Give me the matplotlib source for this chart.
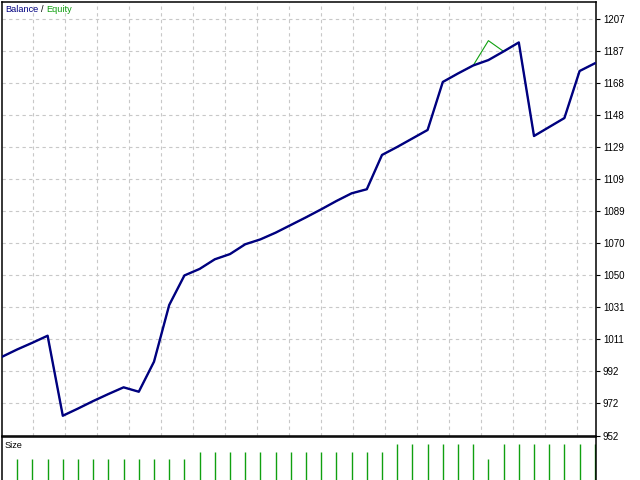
import numpy as np
import matplotlib
matplotlib.use("Agg")
import matplotlib.pyplot as plt

# ---- data ----
trade_index = list(range(40))
balance = [1001.0, 1005.5, 1009.6, 1013.9, 964.9, 969.3, 973.9, 978.2, 982.3, 979.6,
           998.0, 1032.7, 1050.8, 1054.8, 1060.7, 1063.9, 1069.9, 1072.9, 1077.0, 1081.7,
           1086.4, 1091.3, 1096.4, 1101.1, 1103.6, 1124.6, 1129.5, 1134.7, 1139.9, 1169.3,
           1174.5, 1179.4, 1182.7, 1188.0, 1193.5, 1136.2, 1141.7, 1147.2, 1176.0, 1180.7]
equity = list(balance)
equity[32] = 1194.6
size_index = list(range(1, 40))
sizes = [3]*12 + [4]*13 + [5]*6 + [3] + [5]*7
ytick_values = [952.8 + 19.615 * k for k in range(14)]
ytick_labels = ["952", "972", "992", "1011", "1031", "1050", "1070", "1089",
                "1109", "1129", "1148", "1168", "1187", "1207"]

FONT = "Liberation Sans"
FS = 7.0
FS_T = 6.6
W, H = 640, 480
fig = plt.figure(figsize=(6.4, 4.8), dpi=100)

# main axes: pixel box x 2..596, y 2..435.5
ax = fig.add_axes([2 / W, (H - 435.5) / H, 594 / W, 433.5 / H])
ax.set_xlim(0, 594 / 15.2)
ax.set_ylim(952.8, 952.8 + 433.5 / 1.633)

ax.plot(trade_index, equity, color="#10a010", lw=0.8, zorder=2)
ax.plot(trade_index, balance, color="#000080", lw=1.7, zorder=3)

# grid
grid_kw = dict(color="#c8c8c8", lw=0.8, ls=(0, (3, 3)), zorder=1)
vgrid = [(px - 2) / 15.2 for px in range(33, 590, 32)]
for gx in vgrid:
    ax.axvline(gx, **grid_kw)
for gy in ytick_values[1:]:
    ax.axhline(gy, **grid_kw)

ax.set_xticks([])
ax.yaxis.tick_right()
ax.set_yticks(ytick_values)
ax.set_yticklabels(ytick_labels, fontfamily=FONT, fontsize=FS)
ax.tick_params(axis="y", length=3, width=0.8, pad=2, colors="black")
for s in ax.spines.values():
    s.set_linewidth(1.1)
    s.set_color("black")

# label "Balance / Equity" (pieces placed at reference pixel positions)
yb = 1 - 9 / H
fig.text(5 / W, yb, "Balance", color="#000080", fontsize=FS_T, fontfamily=FONT, va="center", ha="left")
fig.text(41 / W, yb, "/", color="black", fontsize=FS_T, fontfamily=FONT, va="center", ha="left")
fig.text(46 / W, yb, "Equity", color="#10a010", fontsize=FS_T, fontfamily=FONT, va="center", ha="left")

# size panel: pixel box x 2..596, y 437..482
ax2 = fig.add_axes([2 / W, (H - 482) / H, 594 / W, 45 / H])
ax2.set_xlim(0, 594 / 15.2)
ax2.set_ylim(0, 45 / 7.6)
ax2.vlines(size_index, 0, sizes, color="#10a010", lw=1.0)
ax2.set_xticks([])
ax2.set_yticks([])
ax2.spines["bottom"].set_visible(False)
for s in ["left", "right", "top"]:
    ax2.spines[s].set_linewidth(1.1)
    ax2.spines[s].set_color("black")
ax2.text(3 / 594, 1 - 8 / 45, "Size", transform=ax2.transAxes, fontsize=FS_T,
         fontfamily=FONT, va="center", ha="left", color="black")

fig.savefig("out.png", dpi=100)
